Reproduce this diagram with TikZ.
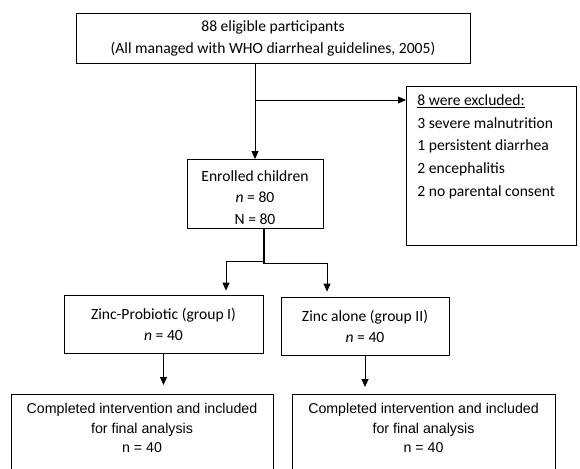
\documentclass[tikz,border=0pt]{standalone}
\usepackage{fontspec}
\setmainfont{Carlito}
\newfontfamily\arialfont{Liberation Sans}
\usepackage{tikz}
\usetikzlibrary{arrows.meta, positioning}

\begin{document}
\begin{tikzpicture}[
  x=1pt, y=-1pt,
  box/.style={draw, line width=0.8pt, inner sep=0pt, align=center, font=\fontsize{15.6}{21}\selectfont},
  exclbox/.style={draw, line width=0.8pt, inner sep=0pt, anchor=north west, font=\fontsize{15.6}{22.75}\selectfont},
  finalbox/.style={draw, line width=0.8pt, inner sep=0pt, anchor=north, font=\arialfont\fontsize{14.2}{19.5}\selectfont},
  arrow/.style={-{Triangle[length=8pt, width=7pt]}, line width=0.8pt},
  stem/.style={line width=1.6pt}
]
\useasboundingbox (0,0) rectangle (580,468);
\clip (0,0) rectangle (580,468);

\node[box, minimum width=394pt, minimum height=50pt, font=\fontsize{15.6}{22}\selectfont] (elig) at (273,38.5) {88 eligible participants\\(All managed with WHO diarrheal guidelines, 2005)};
\node[exclbox] (excl) at (406,86) {\parbox[t][159pt][t]{170pt}{\raggedright\leftskip=11pt
  \rule{0pt}{19pt}\underline{8 were excluded:}\\3 severe malnutrition\\1 persistent diarrhea\\2 encephalitis\\2 no parental consent}};
\node[box, anchor=north, font=\fontsize{15.6}{21.5}\selectfont] (enrol) at (255,159) {\parbox[t][69pt][t]{136pt}{\centering
  \rule{0pt}{22pt}Enrolled children\\\textit{n} = 80\\N = 80}};
\node[box, minimum width=199pt, minimum height=58pt] (zincpro) at (163.5,324) {Zinc-Probiotic (group I)\\\textit{n} = 40};
\node[box, minimum width=168pt, minimum height=58pt] (zincal) at (365,326) {Zinc alone (group II)\\\textit{n} = 40};
\node[finalbox] (finpro) at (142,394) {\parbox[t][90pt][t]{262pt}{\centering
  \rule{0pt}{19.5pt}Completed intervention and included\\for final analysis\\n = 40}};
\node[finalbox] (final) at (423.5,394) {\parbox[t][90pt][t]{263pt}{\centering
  \rule{0pt}{19.5pt}Completed intervention and included\\for final analysis\\n = 40}};

% eligible -> enrolled, with the excluded branch
\coordinate (exclin) at ([yshift=-14pt]excl.north west);
\draw[arrow] (elig.south -| enrol.north) -- (enrol.north);
\draw[arrow] (enrol.north |- exclin) -- (exclin);

% enrolled -> two groups
\coordinate (fork) at ([xshift=9pt]enrol.south);
\draw[stem] (fork) -- ++(0,35);
\draw[arrow, shorten >=4pt] ([yshift=-33pt]fork) -| ([xshift=62.5pt]zincpro.north);
\draw[arrow, shorten >=5pt] ([yshift=-35pt]fork) -| ([xshift=-38pt]zincal.north);

% groups -> final analysis
\draw[arrow, shorten >=9pt] (zincpro.south) -- (zincpro.south |- finpro.north);
\draw[arrow, shorten >=7pt] (zincal.south) -- (zincal.south |- final.north);
\end{tikzpicture}
\end{document}
